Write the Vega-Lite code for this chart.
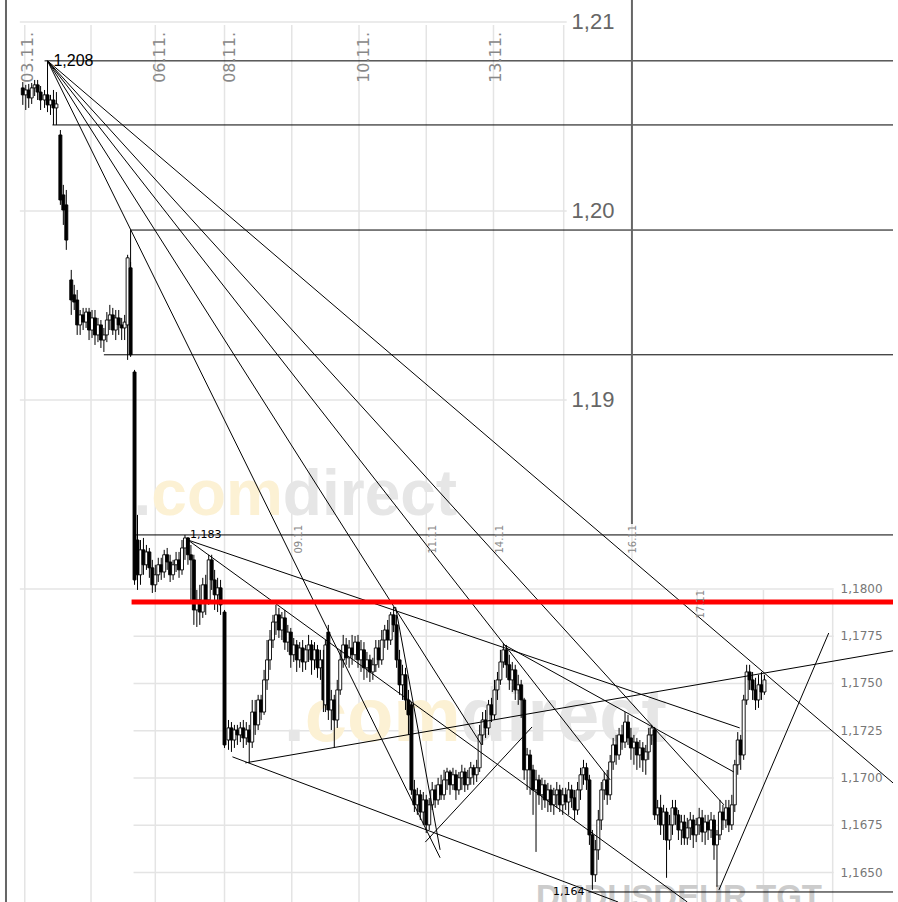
{
"$schema":"https://vega.github.io/schema/vega-lite/v6.json",
"width":898,"height":902,"autosize":"none","padding":0,"background":"white",
"config":{"view":{"stroke":null}},
"datasets":{
"hgrid":[{"p":1.21,"t1":15,"t2":568},{"p":1.20,"t1":15,"t2":568},{"p":1.19,"t1":15,"t2":568},{"p":1.18,"t1":15,"t2":838},{"p":1.1775,"t1":130,"t2":838},{"p":1.175,"t1":130,"t2":838},{"p":1.1725,"t1":130,"t2":838},{"p":1.17,"t1":130,"t2":838},{"p":1.1675,"t1":130,"t2":838},{"p":1.165,"t1":130,"t2":838}],
"vgrid":[{"t":20,"p1":1.20984,"p2":1.16344},{"t":87,"p1":1.20984,"p2":1.16344},{"t":152,"p1":1.20984,"p2":1.16344},{"t":222,"p1":1.20984,"p2":1.16344},{"t":290,"p1":1.20984,"p2":1.16344},{"t":358,"p1":1.20984,"p2":1.16344},{"t":426,"p1":1.20984,"p2":1.16344},{"t":494,"p1":1.20984,"p2":1.16344},{"t":565,"p1":1.20984,"p2":1.16344},{"t":634,"p1":1.18344,"p2":1.16344},{"t":700,"p1":1.17995,"p2":1.16344},{"t":767,"p1":1.17995,"p2":1.16344},{"t":837,"p1":1.17995,"p2":1.16344}],
"frame":[{"t":1,"p1":1.21116,"p2":1.16344},{"t":634,"p1":1.21116,"p2":1.18344}],
"wmUp":[{"txt":".","piece":"dot","t":130,"p":1.18392},{"txt":"com","piece":"com","t":148,"p":1.18392},{"txt":"direct","piece":"direct","t":281,"p":1.18392}],
"wmLow":[{"txt":".","piece":"dot","t":282,"p":1.17196},{"txt":"com","piece":"com","t":303,"p":1.17196},{"txt":"direct","piece":"direct","t":460,"p":1.17196}],
"ticker":[{"txt":"DUDUSDEUR.TGT","t":537,"p":1.16313}],
"candles":[
{"t":18,"o":1.20651,"c":1.20614,"h":1.20682,"l":1.20561},
{"t":21,"o":1.20614,"c":1.20640,"h":1.20667,"l":1.20534},
{"t":24,"o":1.20640,"c":1.20598,"h":1.20672,"l":1.20545},
{"t":27,"o":1.20598,"c":1.20651,"h":1.20677,"l":1.20566},
{"t":30,"o":1.20651,"c":1.20667,"h":1.20693,"l":1.20608},
{"t":33,"o":1.20667,"c":1.20629,"h":1.20693,"l":1.20587},
{"t":36,"o":1.20629,"c":1.20587,"h":1.20661,"l":1.20534},
{"t":40,"o":1.20587,"c":1.20614,"h":1.20640,"l":1.20545},
{"t":43,"o":1.20614,"c":1.20561,"h":1.20788,"l":1.20523},
{"t":46,"o":1.20561,"c":1.20587,"h":1.20614,"l":1.20508},
{"t":49,"o":1.20587,"c":1.20545,"h":1.20640,"l":1.20455},
{"t":52,"o":1.20545,"c":1.20566,"h":1.20629,"l":1.20455},
{"t":56,"o":1.20402,"c":1.20058,"h":1.20428,"l":1.20032},
{"t":59,"o":1.20085,"c":1.20005,"h":1.20138,"l":1.19926},
{"t":62,"o":1.20032,"c":1.19846,"h":1.20111,"l":1.19794},
{"t":67,"o":1.19635,"c":1.19529,"h":1.19688,"l":1.19450},
{"t":70,"o":1.19556,"c":1.19518,"h":1.19609,"l":1.19476},
{"t":73,"o":1.19529,"c":1.19397,"h":1.19582,"l":1.19344},
{"t":76,"o":1.19397,"c":1.19450,"h":1.19476,"l":1.19344},
{"t":79,"o":1.19450,"c":1.19412,"h":1.19487,"l":1.19370},
{"t":82,"o":1.19412,"c":1.19465,"h":1.19487,"l":1.19381},
{"t":85,"o":1.19465,"c":1.19370,"h":1.19487,"l":1.19317},
{"t":88,"o":1.19370,"c":1.19434,"h":1.19476,"l":1.19328},
{"t":91,"o":1.19434,"c":1.19344,"h":1.19476,"l":1.19291},
{"t":94,"o":1.19344,"c":1.19397,"h":1.19434,"l":1.19306},
{"t":97,"o":1.19397,"c":1.19317,"h":1.19423,"l":1.19275},
{"t":100,"o":1.19317,"c":1.19344,"h":1.19381,"l":1.19254},
{"t":103,"o":1.19344,"c":1.19423,"h":1.19465,"l":1.19306},
{"t":106,"o":1.19423,"c":1.19450,"h":1.19503,"l":1.19370},
{"t":109,"o":1.19450,"c":1.19370,"h":1.19487,"l":1.19344},
{"t":112,"o":1.19370,"c":1.19434,"h":1.19476,"l":1.19317},
{"t":115,"o":1.19434,"c":1.19397,"h":1.19476,"l":1.19344},
{"t":118,"o":1.19397,"c":1.19381,"h":1.19434,"l":1.19317},
{"t":121,"o":1.19381,"c":1.19412,"h":1.19450,"l":1.19317},
{"t":124,"o":1.19397,"c":1.19752,"h":1.19768,"l":1.19212},
{"t":127,"o":1.19699,"c":1.19239,"h":1.19730,"l":1.19228},
{"t":131,"o":1.19148,"c":1.18048,"h":1.19159,"l":1.18022},
{"t":134,"o":1.18259,"c":1.18075,"h":1.18392,"l":1.17995},
{"t":137,"o":1.18075,"c":1.18207,"h":1.18259,"l":1.18022},
{"t":140,"o":1.18207,"c":1.18128,"h":1.18270,"l":1.18075},
{"t":143,"o":1.18128,"c":1.18196,"h":1.18233,"l":1.18101},
{"t":146,"o":1.18196,"c":1.18112,"h":1.18217,"l":1.18059},
{"t":149,"o":1.18112,"c":1.18022,"h":1.18154,"l":1.17979},
{"t":152,"o":1.18022,"c":1.18075,"h":1.18128,"l":1.17984},
{"t":155,"o":1.18075,"c":1.18128,"h":1.18165,"l":1.18037},
{"t":158,"o":1.18128,"c":1.18090,"h":1.18165,"l":1.18048},
{"t":161,"o":1.18090,"c":1.18181,"h":1.18207,"l":1.18059},
{"t":164,"o":1.18181,"c":1.18143,"h":1.18217,"l":1.18101},
{"t":167,"o":1.18143,"c":1.18075,"h":1.18181,"l":1.18037},
{"t":170,"o":1.18075,"c":1.18128,"h":1.18154,"l":1.18048},
{"t":173,"o":1.18128,"c":1.18154,"h":1.18196,"l":1.18090},
{"t":176,"o":1.18154,"c":1.18101,"h":1.18196,"l":1.18059},
{"t":179,"o":1.18101,"c":1.18217,"h":1.18259,"l":1.18075},
{"t":182,"o":1.18217,"c":1.18270,"h":1.18286,"l":1.18154},
{"t":185,"o":1.18270,"c":1.18181,"h":1.18275,"l":1.18128},
{"t":188,"o":1.18181,"c":1.18154,"h":1.18233,"l":1.17942},
{"t":191,"o":1.18154,"c":1.17889,"h":1.18181,"l":1.17810},
{"t":194,"o":1.17889,"c":1.17942,"h":1.17995,"l":1.17799},
{"t":197,"o":1.17942,"c":1.17878,"h":1.18022,"l":1.17810},
{"t":200,"o":1.17878,"c":1.18022,"h":1.18059,"l":1.17847},
{"t":203,"o":1.18022,"c":1.17942,"h":1.18075,"l":1.17863},
{"t":206,"o":1.17942,"c":1.18154,"h":1.18181,"l":1.17916},
{"t":209,"o":1.18154,"c":1.18048,"h":1.18181,"l":1.17995},
{"t":212,"o":1.18048,"c":1.17969,"h":1.18101,"l":1.17889},
{"t":215,"o":1.17969,"c":1.18006,"h":1.18059,"l":1.17878},
{"t":218,"o":1.18006,"c":1.17916,"h":1.18048,"l":1.17863},
{"t":222,"o":1.17878,"c":1.17175,"h":1.17889,"l":1.17159},
{"t":226,"o":1.17201,"c":1.17265,"h":1.17307,"l":1.17149},
{"t":229,"o":1.17265,"c":1.17201,"h":1.17296,"l":1.17138},
{"t":232,"o":1.17201,"c":1.17254,"h":1.17281,"l":1.17159},
{"t":235,"o":1.17254,"c":1.17228,"h":1.17281,"l":1.17175},
{"t":238,"o":1.17228,"c":1.17265,"h":1.17296,"l":1.17190},
{"t":241,"o":1.17265,"c":1.17212,"h":1.17307,"l":1.17159},
{"t":244,"o":1.17212,"c":1.17254,"h":1.17296,"l":1.17175},
{"t":247,"o":1.17254,"c":1.17190,"h":1.17281,"l":1.17080},
{"t":250,"o":1.17190,"c":1.17349,"h":1.17413,"l":1.17159},
{"t":253,"o":1.17349,"c":1.17281,"h":1.17413,"l":1.17228},
{"t":256,"o":1.17281,"c":1.17413,"h":1.17440,"l":1.17254},
{"t":259,"o":1.17413,"c":1.17349,"h":1.17440,"l":1.17307},
{"t":262,"o":1.17349,"c":1.17519,"h":1.17572,"l":1.17334},
{"t":265,"o":1.17519,"c":1.17625,"h":1.17730,"l":1.17466},
{"t":268,"o":1.17625,"c":1.17730,"h":1.17783,"l":1.17572},
{"t":271,"o":1.17730,"c":1.17825,"h":1.17863,"l":1.17688},
{"t":274,"o":1.17825,"c":1.17863,"h":1.17916,"l":1.17757},
{"t":277,"o":1.17863,"c":1.17783,"h":1.17900,"l":1.17741},
{"t":280,"o":1.17783,"c":1.17847,"h":1.17878,"l":1.17730},
{"t":283,"o":1.17847,"c":1.17719,"h":1.17889,"l":1.17678},
{"t":286,"o":1.17719,"c":1.17772,"h":1.17810,"l":1.17667},
{"t":289,"o":1.17772,"c":1.17652,"h":1.17794,"l":1.17583},
{"t":292,"o":1.17652,"c":1.17704,"h":1.17741,"l":1.17614},
{"t":295,"o":1.17704,"c":1.17625,"h":1.17730,"l":1.17561},
{"t":298,"o":1.17625,"c":1.17688,"h":1.17719,"l":1.17583},
{"t":301,"o":1.17688,"c":1.17614,"h":1.17730,"l":1.17561},
{"t":304,"o":1.17614,"c":1.17678,"h":1.17704,"l":1.17572},
{"t":307,"o":1.17678,"c":1.17704,"h":1.17757,"l":1.17614},
{"t":310,"o":1.17704,"c":1.17625,"h":1.17730,"l":1.17546},
{"t":313,"o":1.17625,"c":1.17678,"h":1.17719,"l":1.17572},
{"t":316,"o":1.17678,"c":1.17583,"h":1.17704,"l":1.17530},
{"t":319,"o":1.17583,"c":1.17625,"h":1.17678,"l":1.17519},
{"t":322,"o":1.17625,"c":1.17413,"h":1.17678,"l":1.17349},
{"t":324,"o":1.17387,"c":1.17704,"h":1.17730,"l":1.17349},
{"t":327,"o":1.17772,"c":1.17360,"h":1.17810,"l":1.17307},
{"t":330,"o":1.17360,"c":1.17413,"h":1.17466,"l":1.17254},
{"t":333,"o":1.17413,"c":1.17307,"h":1.17440,"l":1.17164},
{"t":336,"o":1.17307,"c":1.17466,"h":1.17519,"l":1.17265},
{"t":339,"o":1.17466,"c":1.17625,"h":1.17678,"l":1.17440},
{"t":342,"o":1.17625,"c":1.17704,"h":1.17757,"l":1.17583},
{"t":345,"o":1.17704,"c":1.17636,"h":1.17741,"l":1.17599},
{"t":348,"o":1.17636,"c":1.17688,"h":1.17730,"l":1.17583},
{"t":351,"o":1.17688,"c":1.17652,"h":1.17757,"l":1.17599},
{"t":354,"o":1.17652,"c":1.17719,"h":1.17751,"l":1.17625},
{"t":357,"o":1.17719,"c":1.17625,"h":1.17757,"l":1.17583},
{"t":360,"o":1.17625,"c":1.17678,"h":1.17730,"l":1.17561},
{"t":363,"o":1.17678,"c":1.17583,"h":1.17719,"l":1.17519},
{"t":366,"o":1.17583,"c":1.17625,"h":1.17667,"l":1.17530},
{"t":369,"o":1.17625,"c":1.17561,"h":1.17652,"l":1.17508},
{"t":372,"o":1.17561,"c":1.17599,"h":1.17636,"l":1.17519},
{"t":375,"o":1.17599,"c":1.17688,"h":1.17730,"l":1.17561},
{"t":378,"o":1.17688,"c":1.17625,"h":1.17730,"l":1.17583},
{"t":381,"o":1.17625,"c":1.17730,"h":1.17783,"l":1.17599},
{"t":384,"o":1.17730,"c":1.17783,"h":1.17810,"l":1.17688},
{"t":387,"o":1.17783,"c":1.17730,"h":1.17836,"l":1.17678},
{"t":390,"o":1.17730,"c":1.17863,"h":1.17878,"l":1.17704},
{"t":393,"o":1.17863,"c":1.17810,"h":1.17905,"l":1.17772},
{"t":396,"o":1.17810,"c":1.17625,"h":1.17863,"l":1.17583},
{"t":399,"o":1.17625,"c":1.17493,"h":1.17678,"l":1.17440},
{"t":402,"o":1.17493,"c":1.17546,"h":1.17599,"l":1.17413},
{"t":405,"o":1.17546,"c":1.17413,"h":1.17583,"l":1.17360},
{"t":408,"o":1.17413,"c":1.17334,"h":1.17466,"l":1.17228},
{"t":411,"o":1.17387,"c":1.16937,"h":1.17402,"l":1.16911},
{"t":414,"o":1.16937,"c":1.16858,"h":1.16990,"l":1.16820},
{"t":417,"o":1.16858,"c":1.16911,"h":1.16948,"l":1.16805},
{"t":420,"o":1.16911,"c":1.16820,"h":1.16937,"l":1.16778},
{"t":423,"o":1.16820,"c":1.16884,"h":1.16926,"l":1.16752},
{"t":426,"o":1.16884,"c":1.16752,"h":1.16911,"l":1.16709},
{"t":429,"o":1.16752,"c":1.16858,"h":1.16895,"l":1.16725},
{"t":432,"o":1.16858,"c":1.16937,"h":1.16979,"l":1.16831},
{"t":435,"o":1.16937,"c":1.16884,"h":1.16964,"l":1.16842},
{"t":438,"o":1.16884,"c":1.16964,"h":1.17001,"l":1.16858},
{"t":441,"o":1.16964,"c":1.16911,"h":1.17017,"l":1.16884},
{"t":444,"o":1.16911,"c":1.16990,"h":1.17043,"l":1.16884},
{"t":447,"o":1.16990,"c":1.17032,"h":1.17054,"l":1.16937},
{"t":450,"o":1.17032,"c":1.16964,"h":1.17043,"l":1.16911},
{"t":453,"o":1.16964,"c":1.17017,"h":1.17054,"l":1.16937},
{"t":456,"o":1.17017,"c":1.16937,"h":1.17043,"l":1.16884},
{"t":459,"o":1.16937,"c":1.17001,"h":1.17032,"l":1.16911},
{"t":462,"o":1.17001,"c":1.17032,"h":1.17070,"l":1.16937},
{"t":465,"o":1.17032,"c":1.16964,"h":1.17054,"l":1.16926},
{"t":468,"o":1.16964,"c":1.17001,"h":1.17043,"l":1.16937},
{"t":471,"o":1.17001,"c":1.17054,"h":1.17085,"l":1.16964},
{"t":474,"o":1.17054,"c":1.17017,"h":1.17070,"l":1.16964},
{"t":477,"o":1.17017,"c":1.17054,"h":1.17096,"l":1.16979},
{"t":480,"o":1.17054,"c":1.17228,"h":1.17281,"l":1.17032},
{"t":483,"o":1.17228,"c":1.17307,"h":1.17349,"l":1.17175},
{"t":486,"o":1.17307,"c":1.17265,"h":1.17360,"l":1.17212},
{"t":489,"o":1.17265,"c":1.17387,"h":1.17413,"l":1.17228},
{"t":492,"o":1.17387,"c":1.17334,"h":1.17424,"l":1.17296},
{"t":495,"o":1.17334,"c":1.17466,"h":1.17519,"l":1.17307},
{"t":498,"o":1.17466,"c":1.17519,"h":1.17561,"l":1.17413},
{"t":501,"o":1.17519,"c":1.17614,"h":1.17678,"l":1.17493},
{"t":504,"o":1.17614,"c":1.17678,"h":1.17714,"l":1.17583},
{"t":507,"o":1.17678,"c":1.17599,"h":1.17704,"l":1.17530},
{"t":510,"o":1.17599,"c":1.17519,"h":1.17652,"l":1.17466},
{"t":513,"o":1.17519,"c":1.17572,"h":1.17614,"l":1.17455},
{"t":516,"o":1.17572,"c":1.17466,"h":1.17599,"l":1.17413},
{"t":519,"o":1.17466,"c":1.17493,"h":1.17546,"l":1.17387},
{"t":522,"o":1.17493,"c":1.17413,"h":1.17519,"l":1.17318},
{"t":525,"o":1.17413,"c":1.17043,"h":1.17424,"l":1.16990},
{"t":528,"o":1.17043,"c":1.17122,"h":1.17159,"l":1.16937},
{"t":531,"o":1.17122,"c":1.17043,"h":1.17149,"l":1.16911},
{"t":534,"o":1.17043,"c":1.16937,"h":1.17070,"l":1.16805},
{"t":537,"o":1.16937,"c":1.16990,"h":1.17043,"l":1.16609},
{"t":540,"o":1.16990,"c":1.16911,"h":1.17017,"l":1.16858},
{"t":543,"o":1.16911,"c":1.16964,"h":1.17001,"l":1.16831},
{"t":546,"o":1.16964,"c":1.16884,"h":1.16990,"l":1.16842},
{"t":549,"o":1.16884,"c":1.16937,"h":1.16974,"l":1.16820},
{"t":552,"o":1.16937,"c":1.16858,"h":1.16964,"l":1.16820},
{"t":555,"o":1.16858,"c":1.16911,"h":1.16948,"l":1.16805},
{"t":558,"o":1.16911,"c":1.16937,"h":1.16979,"l":1.16842},
{"t":561,"o":1.16937,"c":1.16858,"h":1.16964,"l":1.16820},
{"t":564,"o":1.16858,"c":1.16911,"h":1.16948,"l":1.16805},
{"t":567,"o":1.16911,"c":1.16873,"h":1.16948,"l":1.16831},
{"t":570,"o":1.16873,"c":1.16937,"h":1.16979,"l":1.16805},
{"t":573,"o":1.16937,"c":1.16895,"h":1.16964,"l":1.16842},
{"t":576,"o":1.16895,"c":1.16831,"h":1.16937,"l":1.16778},
{"t":579,"o":1.16831,"c":1.16937,"h":1.16979,"l":1.16805},
{"t":582,"o":1.16937,"c":1.17017,"h":1.17054,"l":1.16884},
{"t":585,"o":1.17017,"c":1.17054,"h":1.17096,"l":1.16964},
{"t":588,"o":1.17054,"c":1.16990,"h":1.17080,"l":1.16937},
{"t":591,"o":1.16990,"c":1.16699,"h":1.17017,"l":1.16646},
{"t":594,"o":1.16699,"c":1.16488,"h":1.16725,"l":1.16408},
{"t":597,"o":1.16488,"c":1.16620,"h":1.16672,"l":1.16450},
{"t":600,"o":1.16620,"c":1.16778,"h":1.16831,"l":1.16567},
{"t":603,"o":1.16778,"c":1.16937,"h":1.16979,"l":1.16725},
{"t":606,"o":1.16937,"c":1.16990,"h":1.17032,"l":1.16884},
{"t":609,"o":1.16990,"c":1.16911,"h":1.17043,"l":1.16858},
{"t":612,"o":1.16911,"c":1.17085,"h":1.17122,"l":1.16884},
{"t":615,"o":1.17085,"c":1.17175,"h":1.17212,"l":1.17043},
{"t":618,"o":1.17175,"c":1.17122,"h":1.17228,"l":1.17070},
{"t":621,"o":1.17122,"c":1.17228,"h":1.17265,"l":1.17096},
{"t":624,"o":1.17228,"c":1.17190,"h":1.17281,"l":1.17149},
{"t":627,"o":1.17190,"c":1.17296,"h":1.17349,"l":1.17159},
{"t":630,"o":1.17296,"c":1.17212,"h":1.17334,"l":1.17175},
{"t":633,"o":1.17212,"c":1.17159,"h":1.17265,"l":1.17096},
{"t":636,"o":1.17159,"c":1.17190,"h":1.17228,"l":1.17070},
{"t":639,"o":1.17190,"c":1.17122,"h":1.17212,"l":1.17043},
{"t":642,"o":1.17122,"c":1.17159,"h":1.17201,"l":1.17054},
{"t":645,"o":1.17159,"c":1.17096,"h":1.17190,"l":1.17032},
{"t":648,"o":1.17096,"c":1.17138,"h":1.17175,"l":1.17017},
{"t":651,"o":1.17138,"c":1.17228,"h":1.17265,"l":1.17096},
{"t":654,"o":1.17228,"c":1.17265,"h":1.17281,"l":1.17175},
{"t":657,"o":1.17254,"c":1.16805,"h":1.17270,"l":1.16778},
{"t":660,"o":1.16805,"c":1.16842,"h":1.16884,"l":1.16752},
{"t":663,"o":1.16842,"c":1.16752,"h":1.16911,"l":1.16699},
{"t":666,"o":1.16752,"c":1.16820,"h":1.16858,"l":1.16672},
{"t":669,"o":1.16820,"c":1.16672,"h":1.16842,"l":1.16472},
{"t":672,"o":1.16672,"c":1.16752,"h":1.16805,"l":1.16620},
{"t":675,"o":1.16752,"c":1.16842,"h":1.16884,"l":1.16699},
{"t":678,"o":1.16842,"c":1.16805,"h":1.16884,"l":1.16752},
{"t":681,"o":1.16805,"c":1.16725,"h":1.16831,"l":1.16672},
{"t":684,"o":1.16725,"c":1.16767,"h":1.16805,"l":1.16646},
{"t":687,"o":1.16767,"c":1.16683,"h":1.16805,"l":1.16646},
{"t":690,"o":1.16683,"c":1.16736,"h":1.16789,"l":1.16646},
{"t":693,"o":1.16736,"c":1.16778,"h":1.16820,"l":1.16672},
{"t":696,"o":1.16778,"c":1.16699,"h":1.16805,"l":1.16630},
{"t":699,"o":1.16699,"c":1.16752,"h":1.16789,"l":1.16661},
{"t":702,"o":1.16752,"c":1.16789,"h":1.16842,"l":1.16699},
{"t":705,"o":1.16789,"c":1.16714,"h":1.16831,"l":1.16661},
{"t":708,"o":1.16714,"c":1.16767,"h":1.16805,"l":1.16646},
{"t":711,"o":1.16767,"c":1.16725,"h":1.16805,"l":1.16672},
{"t":714,"o":1.16725,"c":1.16778,"h":1.16820,"l":1.16683},
{"t":717,"o":1.16778,"c":1.16646,"h":1.16805,"l":1.16567},
{"t":720,"o":1.16646,"c":1.16699,"h":1.16725,"l":1.16424},
{"t":723,"o":1.16699,"c":1.16820,"h":1.16884,"l":1.16672},
{"t":726,"o":1.16820,"c":1.16778,"h":1.16858,"l":1.16725},
{"t":729,"o":1.16778,"c":1.16842,"h":1.16884,"l":1.16736},
{"t":732,"o":1.16842,"c":1.16752,"h":1.16884,"l":1.16714},
{"t":735,"o":1.16752,"c":1.16858,"h":1.16911,"l":1.16725},
{"t":738,"o":1.16858,"c":1.17070,"h":1.17096,"l":1.16820},
{"t":741,"o":1.17070,"c":1.17201,"h":1.17243,"l":1.17017},
{"t":744,"o":1.17201,"c":1.17122,"h":1.17228,"l":1.17043},
{"t":747,"o":1.17122,"c":1.17413,"h":1.17440,"l":1.17096},
{"t":750,"o":1.17413,"c":1.17561,"h":1.17599,"l":1.17387},
{"t":753,"o":1.17561,"c":1.17519,"h":1.17599,"l":1.17466},
{"t":756,"o":1.17519,"c":1.17466,"h":1.17561,"l":1.17413},
{"t":759,"o":1.17466,"c":1.17413,"h":1.17530,"l":1.17360},
{"t":762,"o":1.17413,"c":1.17493,"h":1.17546,"l":1.17371},
{"t":765,"o":1.17493,"c":1.17455,"h":1.17561,"l":1.17413},
{"t":768,"o":1.17455,"c":1.17519,"h":1.17546,"l":1.17440}
],
"segs":[
{"x1":43,"y1":1.20794,"x2":440,"y2":1.16578},
{"x1":43,"y1":1.20794,"x2":482,"y2":1.17175},
{"x1":43,"y1":1.20794,"x2":612,"y2":1.16990},
{"x1":43,"y1":1.20794,"x2":727,"y2":1.16858},
{"x1":43,"y1":1.20794,"x2":898,"y2":1.16974},
{"x1":185,"y1":1.18259,"x2":743,"y2":1.17265},
{"x1":185,"y1":1.18259,"x2":690,"y2":1.16344},
{"x1":243,"y1":1.17080,"x2":898,"y2":1.17673},
{"x1":230,"y1":1.17112,"x2":620,"y2":1.16344},
{"x1":395,"y1":1.17905,"x2":440,"y2":1.16620},
{"x1":505,"y1":1.17704,"x2":737,"y2":1.17032},
{"x1":722,"y1":1.16408,"x2":833,"y2":1.17767},
{"x1":425,"y1":1.16661,"x2":533,"y2":1.17270},
{"x1":40,"y1":1.20794,"x2":898,"y2":1.20794},
{"x1":48,"y1":1.20455,"x2":898,"y2":1.20455},
{"x1":127,"y1":1.19899,"x2":898,"y2":1.19899},
{"x1":100,"y1":1.19239,"x2":898,"y2":1.19239},
{"x1":130,"y1":1.18286,"x2":898,"y2":1.18286},
{"x1":590,"y1":1.16397,"x2":898,"y2":1.16397},
{"x1":127,"y1":1.19899,"x2":127,"y2":1.19239}
],
"redline":[{"x1":128,"x2":898,"p":1.17931}],
"yUp":[{"lab":"1,21","t":573,"p":1.21},{"lab":"1,20","t":573,"p":1.20},{"lab":"1,19","t":573,"p":1.19}],
"yLow":[{"lab":"1,1800","t":845,"p":1.18},{"lab":"1,1775","t":845,"p":1.1775},{"lab":"1,1750","t":845,"p":1.175},{"lab":"1,1725","t":845,"p":1.1725},{"lab":"1,1700","t":845,"p":1.17},{"lab":"1,1675","t":845,"p":1.1675},{"lab":"1,1650","t":845,"p":1.165}],
"xUp":[{"lab":"03.11.","t":23,"p":1.20947},{"lab":"06.11.","t":157,"p":1.20947},{"lab":"08.11.","t":228,"p":1.20947},{"lab":"10.11.","t":363,"p":1.20947},{"lab":"13.11.","t":497,"p":1.20947}],
"xLow":[{"lab":"09.11","t":297,"p":1.18339},{"lab":"11.11","t":433,"p":1.18339},{"lab":"14.11","t":501,"p":1.18339},{"lab":"16.11","t":635,"p":1.18339},{"lab":"17.11","t":704,"p":1.17995}],
"noteBig":[{"lab":"1,208","t":49,"p":1.20794}],
"notes":[{"lab":"1,183","t":187,"p":1.18286}],
"notesR":[{"lab":"1,164","t":586,"p":1.16397}]
},
"layer":[
{"data":{"name":"hgrid"},"mark":{"type":"rule","stroke":"#e4e4e4","strokeWidth":1.5},
 "encoding":{"y":{"field":"p","type":"quantitative","scale":{"domain":[1.16344,1.21116],"nice":false,"zero":false},"axis":null},
 "x":{"field":"t1","type":"quantitative","scale":{"domain":[0,898],"nice":false,"zero":false},"axis":null},"x2":{"field":"t2"}}},
{"data":{"name":"vgrid"},"mark":{"type":"rule","stroke":"#e4e4e4","strokeWidth":1.5},
 "encoding":{"x":{"field":"t","type":"quantitative","axis":null},"y":{"field":"p1","type":"quantitative","axis":null},"y2":{"field":"p2"}}},
{"data":{"name":"wmUp"},"mark":{"type":"text","font":"Liberation Sans, sans-serif","fontWeight":"bold","fontSize":64,"align":"left","baseline":"alphabetic"},
 "encoding":{"x":{"field":"t","type":"quantitative","axis":null},"y":{"field":"p","type":"quantitative","axis":null},"text":{"field":"txt"},
 "color":{"field":"piece","type":"nominal","scale":{"domain":["dot","com","direct"],"range":["#e6e6e6","#fcf1d4","#e6e6e6"]},"legend":null}}},
{"data":{"name":"wmLow"},"mark":{"type":"text","font":"Liberation Sans, sans-serif","fontWeight":"bold","fontSize":76,"align":"left","baseline":"alphabetic"},
 "encoding":{"x":{"field":"t","type":"quantitative","axis":null},"y":{"field":"p","type":"quantitative","axis":null},"text":{"field":"txt"},
 "color":{"field":"piece","type":"nominal","scale":{"domain":["dot","com","direct"],"range":["#e6e6e6","#fcf1d4","#e6e6e6"]},"legend":null}}},
{"data":{"name":"ticker"},"mark":{"type":"text","font":"Liberation Sans, sans-serif","fontWeight":"bold","fontSize":33,"align":"left","baseline":"alphabetic","fill":"#cccccc"},
 "encoding":{"x":{"field":"t","type":"quantitative","axis":null},"y":{"field":"p","type":"quantitative","axis":null},"text":{"field":"txt"}}},
{"data":{"name":"candles"},"mark":{"type":"rule","stroke":"#000","strokeWidth":1},
 "encoding":{"x":{"field":"t","type":"quantitative","axis":null},"y":{"field":"l","type":"quantitative","axis":null},"y2":{"field":"h"}}},
{"data":{"name":"candles"},"mark":{"type":"bar","size":3,"stroke":"#000","strokeWidth":0.9},
 "encoding":{"x":{"field":"t","type":"quantitative","axis":null},"y":{"field":"o","type":"quantitative","axis":null},"y2":{"field":"c"},
 "fill":{"condition":{"test":"datum.c < datum.o","value":"#000"},"value":"#fff"}}},
{"data":{"name":"segs"},"mark":{"type":"rule","stroke":"#000","strokeWidth":1},
 "encoding":{"x":{"field":"x1","type":"quantitative","axis":null},"y":{"field":"y1","type":"quantitative","axis":null},"x2":{"field":"x2"},"y2":{"field":"y2"}}},
{"data":{"name":"redline"},"mark":{"type":"rule","stroke":"#ff0000","strokeWidth":5},
 "encoding":{"x":{"field":"x1","type":"quantitative","axis":null},"x2":{"field":"x2"},"y":{"field":"p","type":"quantitative","axis":null}}},
{"data":{"name":"frame"},"mark":{"type":"rule","stroke":"#666666","strokeWidth":2},
 "encoding":{"x":{"field":"t","type":"quantitative","axis":null},"y":{"field":"p1","type":"quantitative","axis":null},"y2":{"field":"p2"}}},
{"data":{"name":"yUp"},"mark":{"type":"text","font":"Liberation Sans, sans-serif","fontSize":22,"align":"left","baseline":"middle","fill":"#666666"},
 "encoding":{"x":{"field":"t","type":"quantitative","axis":null},"y":{"field":"p","type":"quantitative","axis":null},"text":{"field":"lab"}}},
{"data":{"name":"yLow"},"mark":{"type":"text","font":"DejaVu Sans","fontSize":12,"align":"left","baseline":"middle","fill":"#777777"},
 "encoding":{"x":{"field":"t","type":"quantitative","axis":null},"y":{"field":"p","type":"quantitative","axis":null},"text":{"field":"lab"}}},
{"data":{"name":"xUp"},"mark":{"type":"text","font":"DejaVu Sans","fontSize":16,"angle":270,"align":"right","baseline":"middle","fill":"#888888"},
 "encoding":{"x":{"field":"t","type":"quantitative","axis":null},"y":{"field":"p","type":"quantitative","axis":null},"text":{"field":"lab"}}},
{"data":{"name":"xLow"},"mark":{"type":"text","font":"DejaVu Sans","fontSize":10,"angle":270,"align":"right","baseline":"middle","fill":"#888888"},
 "encoding":{"x":{"field":"t","type":"quantitative","axis":null},"y":{"field":"p","type":"quantitative","axis":null},"text":{"field":"lab"}}},
{"data":{"name":"noteBig"},"mark":{"type":"text","font":"Liberation Sans, sans-serif","fontSize":16,"align":"left","baseline":"middle","fill":"#000000"},
 "encoding":{"x":{"field":"t","type":"quantitative","axis":null},"y":{"field":"p","type":"quantitative","axis":null},"text":{"field":"lab"}}},
{"data":{"name":"notes"},"mark":{"type":"text","font":"DejaVu Sans","fontSize":11,"align":"left","baseline":"middle","fill":"#000000"},
 "encoding":{"x":{"field":"t","type":"quantitative","axis":null},"y":{"field":"p","type":"quantitative","axis":null},"text":{"field":"lab"}}},
{"data":{"name":"notesR"},"mark":{"type":"text","font":"DejaVu Sans","fontSize":11,"align":"right","baseline":"middle","fill":"#000000"},
 "encoding":{"x":{"field":"t","type":"quantitative","axis":null},"y":{"field":"p","type":"quantitative","axis":null},"text":{"field":"lab"}}}
]
}
